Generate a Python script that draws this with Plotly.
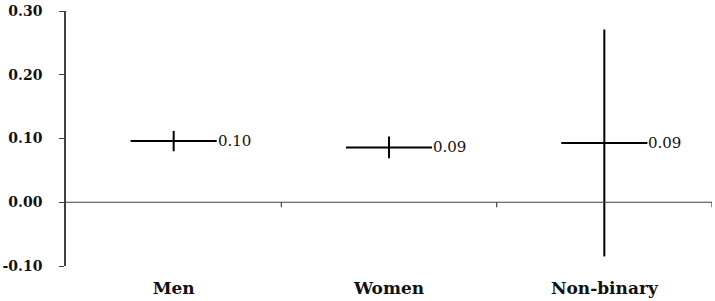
import plotly.graph_objects as go

categories = ["Men", "Women", "Non-binary"]
means = [0.096, 0.086, 0.093]
errors = [0.016, 0.017, 0.178]
y_ticks = [-0.10, 0.00, 0.10, 0.20, 0.30]
y_tick_labels = ["-0.10", "0.00", "0.10", "0.20", "0.30"]

fig = go.Figure()
fig.add_trace(go.Scatter(
    x=categories, y=means, mode="markers",
    marker=dict(symbol="line-ew", size=61.5, color="black",
                line=dict(color="black", width=2)),
    error_y=dict(type="data", array=errors, visible=True,
                 color="black", thickness=2, width=0),
    showlegend=False, hoverinfo="skip",
))

for c, m in zip(categories, means):
    fig.add_annotation(x=c, y=m, text=f"{m:.2f}", showarrow=False,
                       xanchor="left", yanchor="middle", xshift=42,
                       font=dict(family="DejaVu Serif", size=15, color="#111"))

# x-axis line at y = 0 with boundary ticks
fig.add_shape(type="line", xref="paper", yref="y", x0=0, x1=1, y0=0, y1=0,
              line=dict(color="#404040", width=1.2))
for i in range(len(categories)):
    fig.add_shape(type="line", xref="x", yref="y", x0=i + 0.5, x1=i + 0.5,
                  ysizemode="pixel", yanchor=0, y0=0, y1=-5,
                  line=dict(color="#404040", width=1.2))

fig.update_layout(
    width=715, height=301,
    margin=dict(l=66, r=3, t=10, b=34),
    plot_bgcolor="white", paper_bgcolor="white",
    xaxis=dict(range=[-0.5, 2.5], showline=False, showgrid=False,
               zeroline=False, ticks="", ticklabelstandoff=10,
               tickfont=dict(family="DejaVu Serif", size=17, color="#111",
                             weight="bold")),
    yaxis=dict(range=[-0.1, 0.3], tickvals=y_ticks, ticktext=y_tick_labels,
               showline=True, linecolor="#404040", linewidth=1.5,
               ticks="outside", ticklen=5, tickwidth=1.2, tickcolor="#404040",
               showgrid=False, zeroline=False, ticklabelstandoff=14,
               tickfont=dict(family="DejaVu Serif", size=14, color="#111",
                             weight="bold")),
)

fig.write_html("out.html")
